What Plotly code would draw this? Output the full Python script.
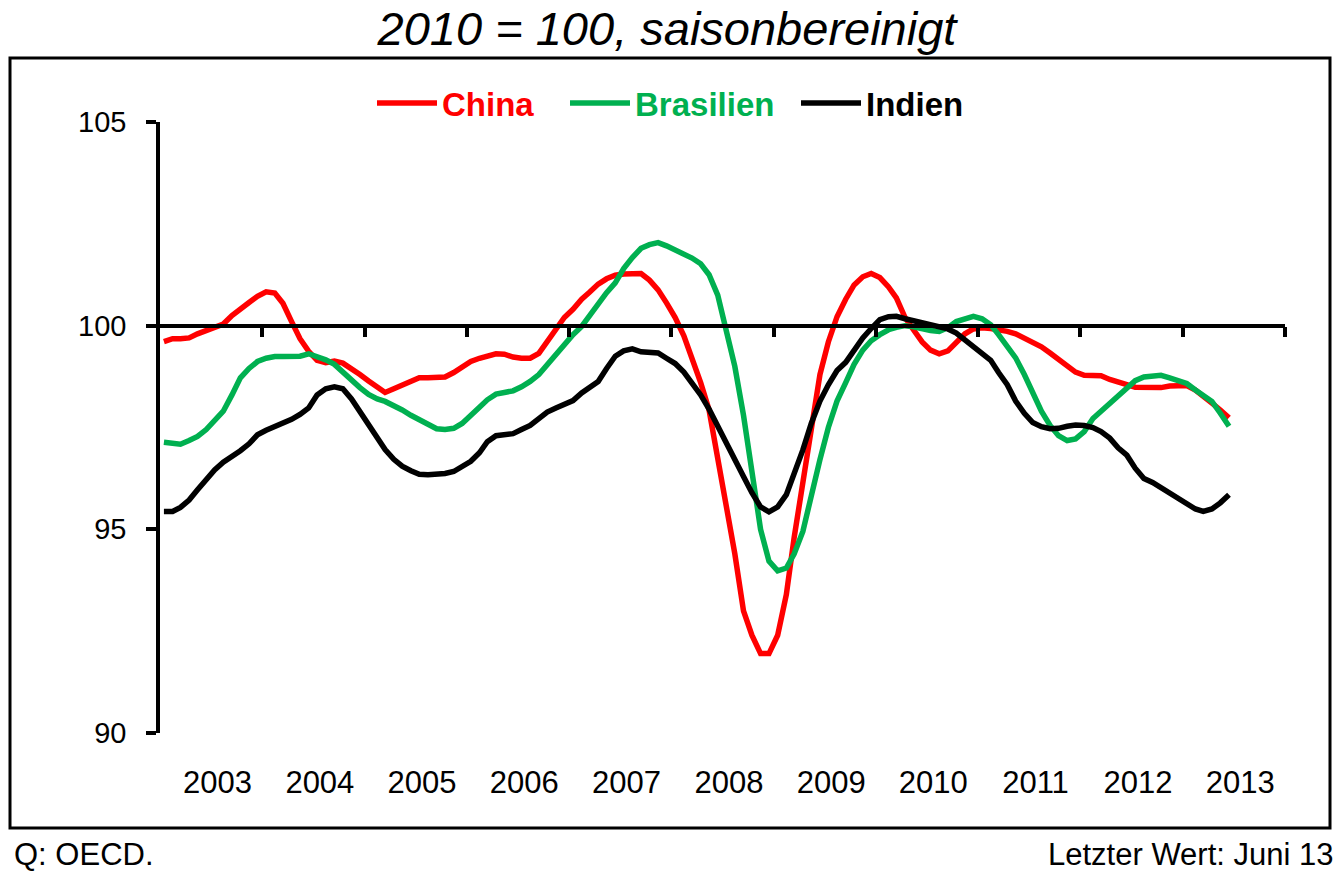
import pandas as pd
import plotly.graph_objects as go

# Monthly data, Jan 2003 - Jun 2013 (2010 = 100, seasonally adjusted)
months = pd.date_range("2003-01-01", periods=126, freq="MS") + pd.Timedelta(days=14)

china = [
    99.61, 99.68, 99.68, 99.70, 99.80, 99.88, 99.97, 100.04, 100.25, 100.42,
    100.57, 100.72, 100.83, 100.80, 100.55, 100.10, 99.68, 99.37, 99.15, 99.09,
    99.13, 99.08, 98.95, 98.80, 98.64, 98.48, 98.36, 98.45, 98.55, 98.63,
    98.72, 98.72, 98.72, 98.74, 98.85, 98.98, 99.12, 99.20, 99.26, 99.31,
    99.30, 99.23, 99.20, 99.20, 99.32, 99.60, 99.90, 100.20, 100.40, 100.65,
    100.82, 101.02, 101.15, 101.24, 101.27, 101.28, 101.28, 101.12, 100.88, 100.56,
    100.20, 99.75, 99.20, 98.60, 97.93, 96.75, 95.50, 94.40, 93.00, 92.40,
    91.95, 91.95, 92.40, 93.40, 94.80, 96.20, 97.60, 98.80, 99.60, 100.22,
    100.65, 101.00, 101.20, 101.28, 101.18, 100.95, 100.68, 100.20, 99.90, 99.60,
    99.40, 99.31, 99.38, 99.58, 99.80, 99.92, 99.95, 99.93, 99.90, 99.86,
    99.80, 99.70, 99.60, 99.48, 99.33, 99.18, 99.02, 98.86, 98.78, 98.77,
    98.77, 98.68, 98.63, 98.55, 98.49, 98.48, 98.48, 98.48, 98.52, 98.53,
    98.53, 98.42, 98.25, 98.10, 97.93, 97.74,
]

brasilien = [
    97.14, 97.10, 97.09, 97.18, 97.28, 97.45, 97.65, 97.90, 98.30, 98.72,
    98.95, 99.12, 99.20, 99.24, 99.24, 99.24, 99.25, 99.31, 99.25, 99.16,
    99.05, 98.85, 98.66, 98.48, 98.31, 98.20, 98.14, 98.05, 97.93, 97.80,
    97.70, 97.56, 97.47, 97.45, 97.48, 97.60, 97.78, 98.00, 98.18, 98.32,
    98.36, 98.40, 98.50, 98.63, 98.80, 99.05, 99.30, 99.55, 99.78, 99.98,
    100.25, 100.55, 100.81, 101.05, 101.40, 101.67, 101.90, 101.99, 102.04, 101.96,
    101.86, 101.76, 101.66, 101.52, 101.25, 100.75, 99.90, 99.00, 97.80, 96.40,
    95.00, 94.22, 93.98, 94.05, 94.40, 94.95, 95.85, 96.71, 97.50, 98.15,
    98.60, 99.05, 99.40, 99.63, 99.78, 99.90, 99.96, 100.00, 99.97, 99.92,
    99.88, 99.86, 99.95, 100.10, 100.17, 100.23, 100.17, 100.02, 99.78, 99.50,
    99.21, 98.80, 98.35, 97.90, 97.55, 97.30, 97.18, 97.22, 97.40, 97.72,
    97.90, 98.08, 98.27, 98.45, 98.65, 98.74, 98.77, 98.78, 98.72, 98.65,
    98.58, 98.42, 98.30, 98.14, 97.85, 97.53,
]

indien = [
    95.44, 95.44, 95.54, 95.72, 95.97, 96.22, 96.46, 96.65, 96.78, 96.93,
    97.10, 97.32, 97.43, 97.52, 97.60, 97.70, 97.82, 97.98, 98.30, 98.45,
    98.50, 98.45, 98.20, 97.90, 97.60, 97.28, 96.96, 96.72, 96.55, 96.44,
    96.35, 96.34, 96.34, 96.37, 96.42, 96.53, 96.67, 96.88, 97.15, 97.30,
    97.33, 97.35, 97.45, 97.55, 97.72, 97.88, 97.98, 98.06, 98.16, 98.35,
    98.50, 98.63, 98.95, 99.25, 99.38, 99.43, 99.36, 99.35, 99.33, 99.20,
    99.07, 98.86, 98.60, 98.30, 97.95, 97.55, 97.15, 96.75, 96.30, 95.90,
    95.55, 95.43, 95.55, 95.85, 96.35, 96.95, 97.60, 98.15, 98.55, 98.90,
    99.10, 99.40, 99.70, 99.93, 100.15, 100.22, 100.23, 100.17, 100.12, 100.06,
    99.99, 99.96, 99.92, 99.82, 99.65, 99.50, 99.35, 99.15, 98.85, 98.55,
    98.15, 97.85, 97.62, 97.52, 97.47, 97.48, 97.53, 97.56, 97.55, 97.50,
    97.40, 97.24, 97.00, 96.82, 96.50, 96.25, 96.15, 96.02, 95.90, 95.75,
    95.60, 95.50, 95.44, 95.50, 95.65, 95.85,
]

years = [str(y) for y in range(2003, 2014)]
year_label_pos = [f"{y}-07-25" for y in range(2003, 2014)]
year_bounds = [f"{y}-01-01" for y in range(2004, 2015)]
y_ticks = [90, 95, 100, 105]

# name, values, colour, x axis, legend entry width
series = [
    ("China", china, "#FF0000", "x", 118),
    ("Brasilien", brasilien, "#00B050", "x", 156),
    ("Indien", indien, "#000000", "x2", None),
]

FONT = "Liberation Sans, Arial, sans-serif"
x_range = ["2003-01-01", "2014-01-01"]

W, H = 1340, 873
L, T = 160, 122          # plot area left / top in pixels
PW, PH = 1125, 611       # plot area size


def px_x(fx):
    return (fx - L) / PW


def px_y(fy):
    return (T + PH - fy) / PH


fig = go.Figure()
for name, vals, col, xa, lw in series:
    kw = dict(legendwidth=lw) if lw else {}
    fig.add_trace(go.Scatter(
        x=months, y=vals, mode="lines", xaxis=xa, yaxis="y",
        name=f"<b><span style='color:{col}'>{name}</span></b>",
        line=dict(color=col, width=5.5), hoverinfo="x+y", **kw,
    ))

y_lo, y_hi = 90, 105
pos100 = (100 - y_lo) / (y_hi - y_lo)

fig.update_layout(
    width=W, height=H,
    margin=dict(l=L, r=W - L - PW, t=T, b=H - T - PH, pad=0),
    paper_bgcolor="white", plot_bgcolor="white",
    font=dict(family=FONT, color="black", size=29),
    title=dict(text="<i>2010 = 100, saisonbereinigt</i>", x=667 / W, xanchor="center",
               y=1 - 29 / H, yanchor="middle", yref="container",
               font=dict(family=FONT, size=47, color="black")),
    showlegend=True,
    legend=dict(orientation="h", x=px_x(372), xanchor="left",
                y=px_y(103), yanchor="middle",
                font=dict(family=FONT, size=33, color="black"),
                bgcolor="rgba(0,0,0,0)", itemwidth=60, tracegroupgap=0),
    xaxis=dict(type="date", range=x_range, showline=False, showgrid=False, zeroline=False,
               ticks="", tickmode="array", tickvals=year_label_pos, ticktext=years,
               tickfont=dict(size=31), ticklabelstandoff=28, anchor="y"),
    xaxis2=dict(type="date", range=x_range, overlaying="x", anchor="free", position=pos100,
                side="bottom", showline=True, linecolor="black", linewidth=3.5,
                ticks="outside", ticklen=10, tickwidth=3.5, tickcolor="black",
                tickmode="array", tickvals=year_bounds, showticklabels=False,
                showgrid=False, zeroline=False),
    yaxis=dict(range=[y_lo, y_hi], tickmode="array", tickvals=y_ticks,
               showline=True, linecolor="black", linewidth=3.5,
               ticks="outside", ticklen=10, tickwidth=3.5, tickcolor="black",
               showgrid=False, zeroline=False, tickfont=dict(size=29),
               ticklabelstandoff=14),
)

# outer frame
fig.add_shape(type="rect", xref="paper", yref="paper",
              x0=px_x(10), x1=px_x(1330), y0=px_y(828), y1=px_y(58),
              line=dict(color="black", width=3), fillcolor="rgba(0,0,0,0)", layer="below")

fig.add_annotation(text="Q: OECD.", xref="paper", yref="paper",
                   x=px_x(12), xanchor="left", y=px_y(855), yanchor="middle",
                   showarrow=False, font=dict(family=FONT, size=31, color="black"))
fig.add_annotation(text="Letzter Wert: Juni 13", xref="paper", yref="paper",
                   x=px_x(1335), xanchor="right", y=px_y(855), yanchor="middle",
                   showarrow=False, font=dict(family=FONT, size=31, color="black"))

fig.write_html("out.html", config={"displayModeBar": False},
               post_script="document.body.style.margin='0';document.body.style.overflow='hidden';")
